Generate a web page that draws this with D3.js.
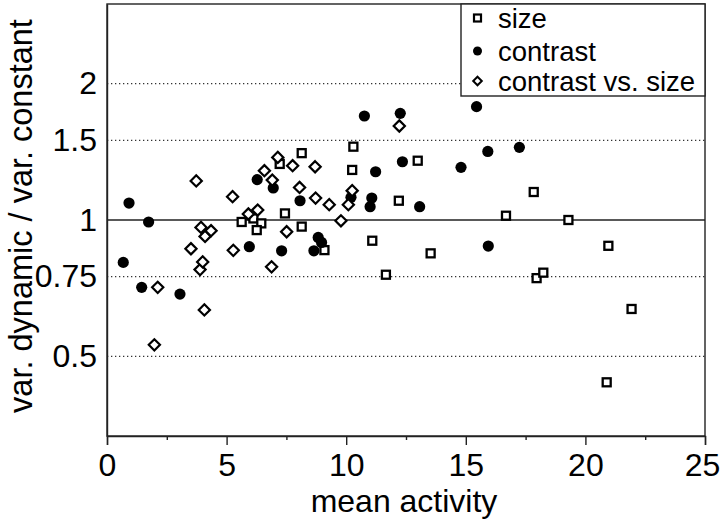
<!DOCTYPE html>
<html>
<head>
<meta charset="utf-8">
<script src="https://cdn.jsdelivr.net/npm/d3@7"></script>
<style>
  html, body { margin: 0; padding: 0; background: #fff; }
  svg { display: block; }
  text { font-family: "Liberation Sans", Arial, Helvetica, sans-serif; fill: #000; }
</style>
</head>
<body>
<svg id="chart" width="720" height="521"></svg>
<script>
// ---- data ----
const xTicks = [0, 5, 10, 15, 20, 25];
const xMinorTicks = [2.5, 7.5, 12.5, 17.5, 22.5];
const yTicks = [0.5, 0.75, 1, 1.5, 2];
const yTickLabels = ["0.5", "0.75", "1", "1.5", "2"];
const xTitle = "mean activity";
const yTitle = "var. dynamic / var. constant";
const seriesNames = ["size", "contrast", "contrast vs. size"];

const sizeX = [5.63, 6.12, 6.45, 6.26, 7.44, 7.22, 8.14, 8.14, 9.09, 10.25, 10.3, 11.09, 11.66, 12.2, 12.99, 13.53, 16.68, 17.84, 17.96, 18.24, 19.29, 20.96, 20.89, 21.93];
const sizeY = [0.99, 1.008, 0.983, 0.95, 1.034, 1.33, 1.405, 0.967, 0.858, 1.29, 1.452, 0.90, 0.757, 1.103, 1.352, 0.844, 1.022, 1.153, 0.744, 0.765, 1.0, 0.877, 0.438, 0.636];

const contrastX = [0.68, 0.92, 1.45, 1.74, 3.05, 5.95, 6.28, 6.95, 7.30, 8.07, 8.65, 8.83, 8.97, 10.2, 10.76, 11.0, 11.07, 11.23, 12.26, 12.35, 13.07, 14.8, 15.45, 15.92, 15.94, 17.24];
const contrastY = [0.806, 1.09, 0.71, 0.99, 0.686, 0.873, 1.228, 1.177, 0.855, 1.103, 0.855, 0.915, 0.892, 1.122, 1.697, 1.07, 1.118, 1.278, 1.72, 1.345, 1.07, 1.307, 1.78, 1.417, 0.876, 1.447];

const cvsX = [1.98, 2.12, 3.51, 3.73, 3.89, 4.0, 3.93, 4.10, 4.35, 4.07, 5.25, 5.28, 5.91, 6.30, 6.58, 6.88, 6.91, 7.14, 7.51, 7.76, 8.05, 8.70, 8.72, 9.29, 9.78, 10.09, 10.25, 12.22];
const cvsY = [0.53, 0.71, 0.864, 1.22, 0.777, 0.808, 0.963, 0.92, 0.947, 0.633, 1.126, 0.857, 1.031, 1.052, 1.285, 0.788, 1.225, 1.375, 0.942, 1.318, 1.18, 1.311, 1.118, 1.081, 0.996, 1.081, 1.161, 1.613];

// ---- layout ----
const pL = 107, pR = 705, pT = 4, pB = 436;
const svg = d3.select("#chart");

const x = d3.scaleLinear().domain([0, 25]).range([pL, pR]);
const y = d3.scaleLog().domain([1 / 3, 3]).range([pB, pT]);

// gridlines
const grid = svg.append("g");
yTicks.forEach(v => {
  grid.append("line")
    .attr("x1", pL).attr("x2", pR)
    .attr("y1", y(v)).attr("y2", y(v))
    .attr("stroke", v === 1 ? "#222" : "#333")
    .attr("stroke-width", v === 1 ? 1.4 : 1.2)
    .attr("stroke-dasharray", v === 1 ? null : "1.3,2.7");
});

// frame
svg.append("rect")
  .attr("x", pL).attr("y", pT)
  .attr("width", pR - pL).attr("height", pB - pT)
  .attr("fill", "none").attr("stroke", "#222").attr("stroke-width", 1.4);

// x axis
const xAxis = svg.append("g").attr("transform", `translate(0,${pB})`)
  .call(d3.axisBottom(x).tickValues(xTicks).tickSize(9).tickPadding(8).tickFormat(d3.format("d")));
xAxis.select(".domain").attr("stroke", "#222").attr("stroke-width", 1.4);
xAxis.selectAll(".tick line").attr("stroke", "#222").attr("stroke-width", 1.4);
xAxis.selectAll(".tick text").attr("font-size", 32).attr("dy", "0.71em")
  .attr("dx", d => d === 25 ? -3 : 0)
  .style("font-family", '"Liberation Sans", Arial, sans-serif').attr("fill", "#000");

const xMinor = svg.append("g").attr("transform", `translate(0,${pB})`)
  .call(d3.axisBottom(x).tickValues(xMinorTicks).tickSize(4).tickFormat(""));
xMinor.select(".domain").remove();
xMinor.selectAll(".tick line").attr("stroke", "#222").attr("stroke-width", 1.4);

// y axis
const yAxis = svg.append("g").attr("transform", `translate(${pL},0)`)
  .call(d3.axisLeft(y).tickValues(yTicks).tickSize(0).tickPadding(10)
    .tickFormat((d, i) => yTickLabels[i]));
yAxis.select(".domain").attr("stroke", "#222").attr("stroke-width", 1.4);
yAxis.selectAll(".tick text").attr("font-size", 32)
  .style("font-family", '"Liberation Sans", Arial, sans-serif').attr("fill", "#000");

// axis titles
svg.append("text")
  .attr("x", (pL + pR) / 2 - 2).attr("y", 512)
  .attr("text-anchor", "middle").attr("font-size", 32)
  .text(xTitle);
svg.append("text")
  .attr("transform", `translate(32,${(pT + pB) / 2 - 4}) rotate(-90)`)
  .attr("text-anchor", "middle").attr("font-size", 32.5)
  .text(yTitle);

// markers
function diamondPath(r) {
  return `M0,${-r}L${r},0L0,${r}L${-r},0Z`;
}
const sq = 8;

const marks = svg.append("g");
marks.selectAll(".sq").data(d3.range(sizeX.length)).join("rect")
  .attr("x", i => x(sizeX[i]) - sq / 2).attr("y", i => y(sizeY[i]) - sq / 2)
  .attr("width", sq).attr("height", sq)
  .attr("fill", "#fff").attr("stroke", "#000").attr("stroke-width", 2.3);

marks.selectAll(".dot").data(d3.range(contrastX.length)).join("circle")
  .attr("cx", i => x(contrastX[i])).attr("cy", i => y(contrastY[i]))
  .attr("r", 5.6).attr("fill", "#000");

marks.selectAll(".dia").data(d3.range(cvsX.length)).join("path")
  .attr("transform", i => `translate(${x(cvsX[i])},${y(cvsY[i])})`)
  .attr("d", diamondPath(5.6))
  .attr("fill", "#fff").attr("stroke", "#000").attr("stroke-width", 2.2);

// legend
const lg = svg.append("g");
lg.append("rect")
  .attr("x", 461).attr("y", pT).attr("width", pR - 461).attr("height", 92)
  .attr("fill", "#fff").attr("stroke", "#222").attr("stroke-width", 1.4);
const rowsY = [18, 51, 81];
lg.append("rect").attr("x", 474).attr("y", rowsY[0] - 3.5).attr("width", 7).attr("height", 7)
  .attr("fill", "#fff").attr("stroke", "#000").attr("stroke-width", 2.2);
lg.append("circle").attr("cx", 477.5).attr("cy", rowsY[1]).attr("r", 4.5).attr("fill", "#000");
lg.append("path").attr("transform", `translate(477.5,${rowsY[2]})`).attr("d", diamondPath(4.3))
  .attr("fill", "#fff").attr("stroke", "#000").attr("stroke-width", 2);
seriesNames.forEach((s, i) => {
  lg.append("text").attr("x", 498).attr("y", rowsY[i] + 10)
    .attr("font-size", 27.5).text(s);
});
</script>
</body>
</html>
